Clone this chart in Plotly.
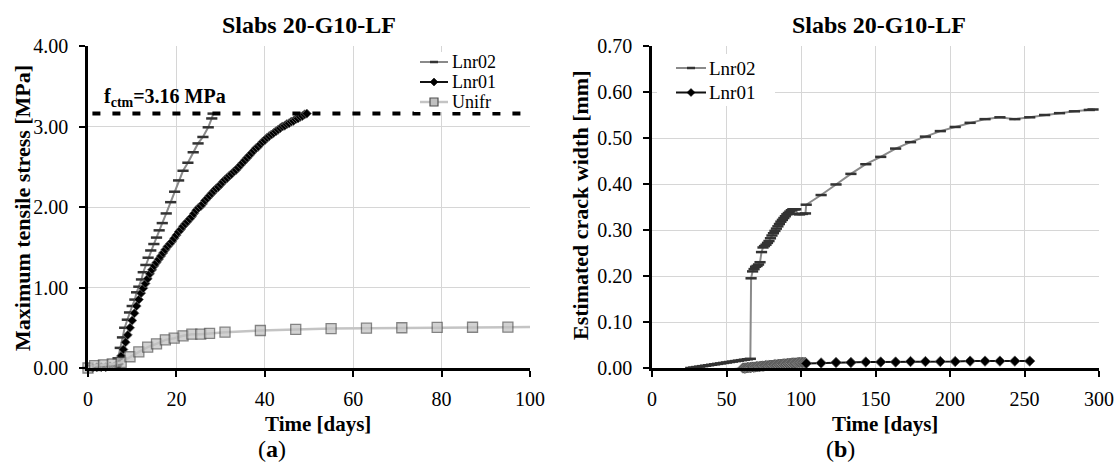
import plotly.graph_objects as go

# ---------------- data: panel (a) ----------------
a_lnr02_days = [0, 1, 2, 3, 4, 5, 6, 6.8, 7.3, 7.8, 8.3, 8.9, 9.4, 10.0, 10.6, 11.0, 11.5, 12.1, 12.5,
                13.1, 13.6, 14.2, 14.9, 15.5, 16.1, 16.8, 17.7, 18.7, 19.6, 20.5, 21.5, 22.6, 23.8, 24.9,
                26.0, 27.2, 28.0, 28.3]
a_lnr02_vals = [0, 0.01, 0.01, 0.02, 0.02, 0.03, 0.04, 0.12, 0.25, 0.38, 0.50, 0.60, 0.69, 0.77, 0.85,
                0.94, 1.01, 1.10, 1.19, 1.28, 1.37, 1.46, 1.54, 1.62, 1.71, 1.80, 1.92, 2.06, 2.19, 2.33,
                2.45, 2.55, 2.68, 2.79, 2.87, 2.99, 3.10, 3.16]

a_lnr01_days = [0, 1, 2, 3, 4, 5, 6, 6.5, 7.0, 7.5, 8.0, 8.5, 9.0, 9.5, 10.0, 10.5, 11.0, 11.5, 12.0,
                12.5, 13.0, 13.5, 14.0, 14.5, 15.0, 15.5, 16.0, 16.5, 17.0, 17.5, 18.0, 18.5, 19.0, 19.5,
                20.0, 20.5, 21.0, 21.5, 22.0, 22.5, 23.0, 23.5, 24.0, 24.5, 25.0, 25.5, 26.0, 26.5, 27.0,
                27.5, 28.0, 28.5, 29.0, 29.5, 30.0, 30.5, 31.0, 31.5, 32.0, 32.5, 33.0, 33.5, 34.0, 34.5,
                35.0, 35.5, 36.0, 36.5, 37.0, 37.5, 38.0, 38.5, 39.0, 39.5, 40.0, 40.5, 41.0, 41.5, 42.0,
                42.5, 43.0, 43.5, 44.0, 44.5, 45.0, 45.5, 46.0, 46.5, 47.0, 47.5, 48.0, 48.5, 49.0, 49.5]
a_lnr01_vals = [0.00, 0.00, 0.01, 0.01, 0.01, 0.02, 0.02, 0.02, 0.05, 0.15, 0.23, 0.32, 0.41, 0.50, 0.59,
                0.68, 0.77, 0.85, 0.93, 0.99, 1.05, 1.11, 1.17, 1.22, 1.27, 1.31, 1.35, 1.39, 1.43, 1.47,
                1.51, 1.54, 1.57, 1.61, 1.65, 1.69, 1.72, 1.76, 1.79, 1.82, 1.85, 1.88, 1.92, 1.96, 1.99,
                2.01, 2.04, 2.08, 2.11, 2.14, 2.17, 2.20, 2.23, 2.25, 2.28, 2.31, 2.34, 2.36, 2.39, 2.41,
                2.44, 2.46, 2.49, 2.52, 2.55, 2.58, 2.61, 2.64, 2.67, 2.70, 2.73, 2.75, 2.78, 2.81, 2.83,
                2.86, 2.88, 2.90, 2.92, 2.94, 2.96, 2.98, 3.00, 3.01, 3.03, 3.04, 3.06, 3.07, 3.09, 3.10,
                3.12, 3.13, 3.15, 3.16]

a_unifr_days = [0, 1.5, 3.5, 5.5, 7.5, 9.5, 11.5, 13.5, 15.5, 17.5, 19.5, 21.5, 23.5, 25.5, 27.5, 31,
                39, 47, 55, 63, 71, 79, 87, 95, 100]
a_unifr_vals = [0.00, 0.03, 0.04, 0.05, 0.07, 0.14, 0.20, 0.26, 0.30, 0.35, 0.37, 0.40, 0.42, 0.42, 0.43,
                0.445, 0.466, 0.48, 0.49, 0.495, 0.50, 0.504, 0.506, 0.507, 0.508]

fctm = 3.16
a_x_ticks = [0, 20, 40, 60, 80, 100]
a_y_ticks = [0, 1, 2, 3, 4]
a_legend_names = ["Lnr02", "Lnr01", "Unifr"]

# ---------------- data: panel (b) ----------------
b_lnr02_days = [26, 28, 30, 32, 34, 36, 38, 40, 42, 44, 46, 48, 50, 52, 54, 56, 58, 60, 62, 64, 66,
                66.5, 67.5, 68.5, 69.5, 70.5, 71.5, 72.5, 73.5, 74.5, 75.5, 76.5, 77.5, 78.5, 79.5, 80.5,
                81.5, 82.5, 83.5, 84.5, 85.5, 86.5, 87.5, 88.5, 89.5, 90.5, 91.5, 92.5, 93.5, 94.5, 95.5,
                96.5, 97.5, 99, 101, 103, 103.5, 113.5, 123.5, 133.5, 143.5, 153.5, 163.5, 173.5, 183.5,
                193.5, 203.5, 213.5, 223.5, 233.5, 243.5, 253.5, 263.5, 273.5, 283.5, 293.5, 296]
b_lnr02_vals = [0.000, 0.001, 0.002, 0.003, 0.004, 0.005, 0.006, 0.007, 0.008, 0.009, 0.010, 0.011,
                0.012, 0.013, 0.014, 0.015, 0.016, 0.017, 0.018, 0.019, 0.020,
                0.195, 0.210, 0.215, 0.220, 0.222, 0.225, 0.230, 0.252, 0.262, 0.265, 0.268, 0.272,
                0.276, 0.282, 0.288, 0.293, 0.298, 0.303, 0.308, 0.313, 0.318, 0.322, 0.326, 0.330,
                0.334, 0.337, 0.340, 0.343, 0.345, 0.345, 0.345, 0.335,
                0.334, 0.335, 0.336, 0.355,
                0.376, 0.399, 0.422, 0.443, 0.459, 0.477, 0.491, 0.503, 0.515, 0.524, 0.533, 0.541,
                0.545, 0.541, 0.545, 0.550, 0.554, 0.558, 0.561, 0.562]

# Lnr01: dense early readings (seen as a grey band) and sparse later readings
b_lnr01_early_days = [50, 51, 52, 53, 54, 55, 56, 57, 58, 59, 60, 61, 62, 63, 64, 65, 66, 67, 68, 69, 70,
                      71, 72, 73, 74, 75, 76, 77, 78, 79, 80, 81, 82, 83, 84, 85, 86, 87, 88, 89, 90, 91,
                      92, 93, 94, 95, 96, 97, 98, 99, 100, 101, 102, 103]
b_lnr01_early_vals = [-0.004, -0.004, -0.003, -0.003, -0.003, -0.002, -0.002, -0.002, -0.001, -0.001,
                      -0.001, 0.000, 0.000, 0.000, 0.001, 0.001, 0.001, 0.002, 0.002, 0.002, 0.003,
                      0.003, 0.003, 0.004, 0.004, 0.004, 0.005, 0.005, 0.005, 0.006, 0.006, 0.006,
                      0.007, 0.007, 0.007, 0.008, 0.008, 0.008, 0.009, 0.009, 0.009, 0.010, 0.010,
                      0.010, 0.011, 0.011, 0.011, 0.011, 0.012, 0.012, 0.012, 0.012, 0.012, 0.012]
b_lnr01_late_days = [103.5, 113.5, 123.5, 133.5, 143.5, 153.5, 163.5, 173.5, 183.5, 193.5, 203.5, 213.5,
                     223.5, 233.5, 243.5, 253.5]
b_lnr01_late_vals = [0.010, 0.011, 0.012, 0.012, 0.013, 0.013, 0.013, 0.014, 0.014, 0.014, 0.014, 0.015,
                     0.015, 0.015, 0.015, 0.015]

b_x_ticks = [0, 50, 100, 150, 200, 250, 300]
b_y_ticks = [0, 0.1, 0.2, 0.3, 0.4, 0.5, 0.6, 0.7]
b_legend_names = ["Lnr02", "Lnr01"]

title_text = "Slabs 20-G10-LF"

# ---------------- styles ----------------
W, H = 1118, 466
FONT = "Liberation Serif"
LNR02_LINE = "#8a8a8a"
LNR02_MARK = "#333333"
LNR01_COL = "#000000"
UNIFR_LINE = "#c4c4c4"
UNIFR_FILL = "#c0c0c0"
UNIFR_EDGE = "#505050"


def px_x(p):
    return p / W


def px_y(p):
    return 1 - p / H


fig = go.Figure()

# panel (a)
fig.add_trace(go.Scatter(
    x=a_lnr02_days, y=a_lnr02_vals, name="Lnr02", mode="lines+markers", showlegend=False,
    line=dict(color=LNR02_LINE, width=2),
    marker=dict(symbol="line-ew", size=8, line=dict(color=LNR02_MARK, width=2.5)),
    xaxis="x", yaxis="y", cliponaxis=False))
fig.add_trace(go.Scatter(
    x=a_lnr01_days, y=a_lnr01_vals, name="Lnr01", mode="lines+markers", showlegend=False,
    line=dict(color="#111111", width=2),
    marker=dict(symbol="diamond", size=7, color=LNR01_COL, line=dict(color="#666666", width=0.8)),
    xaxis="x", yaxis="y", cliponaxis=False))
unifr_sizes = [10 if d <= 95 else 0 for d in a_unifr_days]
fig.add_trace(go.Scatter(
    x=a_unifr_days, y=a_unifr_vals, name="Unifr", mode="lines+markers", showlegend=False,
    line=dict(color=UNIFR_LINE, width=2.5),
    marker=dict(symbol="square", size=unifr_sizes, color=UNIFR_FILL, line=dict(color=UNIFR_EDGE, width=1.3)),
    xaxis="x", yaxis="y", cliponaxis=False))

# panel (b)
fig.add_trace(go.Scatter(
    x=b_lnr02_days, y=b_lnr02_vals, name="Lnr02", mode="lines+markers", showlegend=False,
    line=dict(color=LNR02_LINE, width=2),
    marker=dict(symbol="line-ew", size=8, line=dict(color=LNR02_MARK, width=2.5)),
    xaxis="x2", yaxis="y2", cliponaxis=False))
fig.add_trace(go.Scatter(
    x=b_lnr01_early_days, y=b_lnr01_early_vals, name="Lnr01", mode="lines+markers", showlegend=False,
    line=dict(color="#555555", width=2),
    marker=dict(symbol="diamond", size=8, color="#8c8c8c", line=dict(color="#444444", width=0.8)),
    xaxis="x2", yaxis="y2", cliponaxis=False))
fig.add_trace(go.Scatter(
    x=b_lnr01_late_days, y=b_lnr01_late_vals, name="Lnr01", mode="lines+markers", showlegend=False,
    line=dict(color="#111111", width=2),
    marker=dict(symbol="diamond", size=8, color=LNR01_COL, line=dict(color="#555555", width=0.8)),
    xaxis="x2", yaxis="y2", cliponaxis=False))

axis_common = dict(
    showline=True, linecolor="#000000", linewidth=2.5,
    ticks="outside", ticklen=6, tickwidth=2, tickcolor="#000000",
    showgrid=True, gridcolor="#d6d6d6", gridwidth=1,
    zeroline=False, automargin=False,
    tickfont=dict(family=FONT, size=20, color="#000000"),
)

fig.update_layout(
    width=W, height=H,
    autosize=False,
    margin=dict(l=0, r=0, t=0, b=0, pad=0, autoexpand=False),
    paper_bgcolor="white", plot_bgcolor="white",
    showlegend=False,
    xaxis=dict(axis_common, domain=[px_x(88), px_x(530)], range=[0, 100],
               tickvals=a_x_ticks, ticklabelstandoff=5, anchor="y"),
    yaxis=dict(axis_common, domain=[px_y(368), px_y(46)], range=[0, 4],
               tickvals=a_y_ticks, tickformat=".2f", ticklabelstandoff=7, anchor="x"),
    xaxis2=dict(axis_common, domain=[px_x(652), px_x(1099)], range=[0, 300],
                tickvals=b_x_ticks, ticklabelstandoff=5, anchor="y2"),
    yaxis2=dict(axis_common, domain=[px_y(368), px_y(46)], range=[0, 0.7],
                tickvals=b_y_ticks, tickformat=".2f", ticklabelstandoff=7, anchor="x2"),
)

# f_ctm threshold line
fig.add_shape(type="line", xref="x", yref="y", x0=1.0, x1=100, y0=fctm, y1=fctm,
              line=dict(color="#000000", width=4, dash="8px,12px"))


# ---------------- manual legends (tight spacing as in the original) ----------------
def add_legend(names, styles, rows, x0, x1, text_x, box, font_size):
    mid = (x0 + x1) / 2
    fig.add_shape(type="rect", xref="paper", yref="paper", layer="above",
                  x0=px_x(box[0]), x1=px_x(box[1]), y0=px_y(box[2]), y1=px_y(box[3]),
                  fillcolor="white", line=dict(width=0))
    for name, yy, st in zip(names, rows, styles):
        fig.add_shape(type="line", xref="paper", yref="paper", layer="above",
                      x0=px_x(x0), x1=px_x(x1), y0=px_y(yy), y1=px_y(yy),
                      line=dict(color=st["line"], width=st["w"]))
        if st["sym"] == "dash":
            fig.add_shape(type="line", xref="paper", yref="paper", layer="above",
                          x0=px_x(mid - 4), x1=px_x(mid + 4), y0=px_y(yy), y1=px_y(yy),
                          line=dict(color=LNR02_MARK, width=2.5))
        elif st["sym"] == "diamond":
            fig.add_shape(type="path", xref="paper", yref="paper", layer="above",
                          path=(f"M {px_x(mid)},{px_y(yy - 4)} L {px_x(mid + 4)},{px_y(yy)} "
                                f"L {px_x(mid)},{px_y(yy + 4)} L {px_x(mid - 4)},{px_y(yy)} Z"),
                          fillcolor=LNR01_COL, line=dict(color=LNR01_COL, width=0.5))
        elif st["sym"] == "square":
            fig.add_shape(type="rect", xref="paper", yref="paper", layer="above",
                          x0=px_x(mid - 4), x1=px_x(mid + 4), y0=px_y(yy - 4), y1=px_y(yy + 4),
                          fillcolor=UNIFR_FILL, line=dict(color=UNIFR_EDGE, width=1.2))
        fig.add_annotation(text=name, xref="paper", yref="paper", x=px_x(text_x), y=px_y(yy),
                           xanchor="left", yanchor="middle", showarrow=False,
                           font=dict(family=FONT, size=font_size, color="#000000"))


style_lnr02 = dict(line=LNR02_LINE, w=2, sym="dash")
style_lnr01 = dict(line="#111111", w=2, sym="diamond")
style_unifr = dict(line=UNIFR_LINE, w=2.5, sym="square")

add_legend(a_legend_names, [style_lnr02, style_lnr01, style_unifr], [62, 82, 102],
           420, 448, 450, (414, 512, 52, 112), 18)
add_legend(b_legend_names, [style_lnr02, style_lnr01], [68, 92.5],
           676, 706, 707, (657, 775, 54, 106), 19)

ann_font = dict(family=FONT, color="#000000")
annotations = [
    dict(text="<b>f<sub>ctm</sub>=3.16 MPa</b>", x=px_x(102), y=px_y(97), xanchor="left",
         font=dict(ann_font, size=20)),
    dict(text="<b>" + title_text + "</b>", x=px_x(309), y=px_y(25), font=dict(ann_font, size=24)),
    dict(text="<b>" + title_text + "</b>", x=px_x(879), y=px_y(25), font=dict(ann_font, size=24)),
    dict(text="<b>Time [days]</b>", x=px_x(318), y=px_y(424), font=dict(ann_font, size=21)),
    dict(text="<b>Time [days]</b>", x=px_x(885), y=px_y(424), font=dict(ann_font, size=21)),
    dict(text="<b>Maximum tensile stress [MPa]</b>", x=px_x(22), y=px_y(208), textangle=-90,
         font=dict(ann_font, size=22)),
    dict(text="<b>Estimated crack width [mm]</b>", x=px_x(580), y=px_y(206), textangle=-90,
         font=dict(ann_font, size=22)),
    dict(text="(<b>a</b>)", x=px_x(272), y=px_y(449), font=dict(ann_font, size=24)),
    dict(text="(<b>b</b>)", x=px_x(840), y=px_y(449), font=dict(ann_font, size=24)),
]
for a in annotations:
    a.setdefault("xanchor", "center")
    a.setdefault("yanchor", "middle")
    fig.add_annotation(xref="paper", yref="paper", showarrow=False, **a)

fig.write_html("out.html")
